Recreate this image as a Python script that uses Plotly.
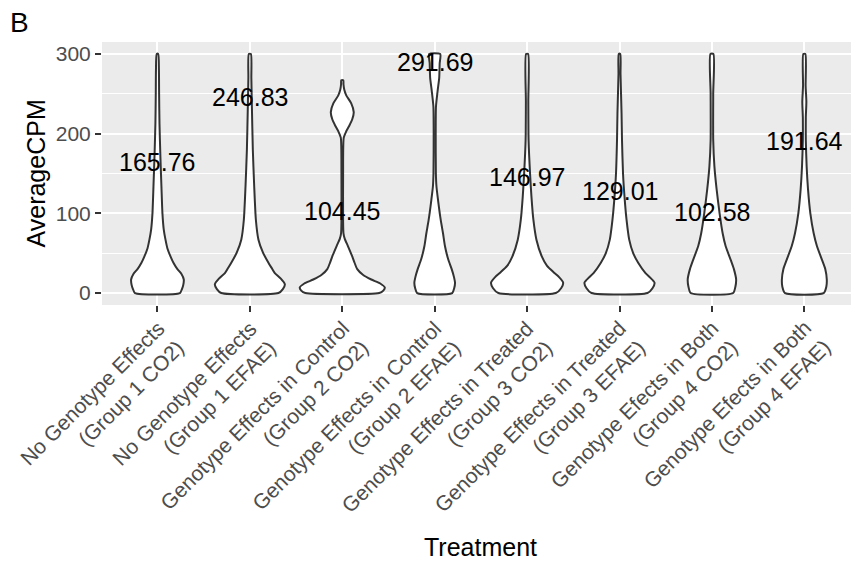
import plotly.graph_objects as go

# Treatment groups (x axis order) and the mean AverageCPM shown above each violin
treatments = [
    "No Genotype Effects<br>(Group 1 CO2)",
    "No Genotype Effects<br>(Group 1 EFAE)",
    "Genotype Effects in Control<br>(Group 2 CO2)",
    "Genotype Effects in Control<br>(Group 2 EFAE)",
    "Genotype Effects in Treated<br>(Group 3 CO2)",
    "Genotype Effects in Treated<br>(Group 3 EFAE)",
    "Genotype Efects in Both<br>(Group 4 CO2)",
    "Genotype Efects in Both<br>(Group 4 EFAE)",
]
mean_cpm = [165.76, 246.83, 104.45, 291.69, 146.97, 129.01, 102.58, 191.64]

# Scaled kernel-density profiles of each group: AverageCPM levels and the
# violin half-width at each level (in category units)
v1_cpm = [0, 5, 10, 17, 24, 30, 38, 46, 56, 67, 80, 100, 134, 171, 213, 250, 280, 300]
v1_hw = [0.243, 0.265, 0.279, 0.285, 0.260, 0.216, 0.173, 0.141, 0.108, 0.087, 0.068,
         0.054, 0.043, 0.032, 0.022, 0.018, 0.016, 0.008]

v2_cpm = [0, 5, 11, 18, 25, 31, 38, 51, 67, 92, 134, 180, 234, 270, 300]
v2_hw = [0.309, 0.357, 0.379, 0.335, 0.270, 0.238, 0.201, 0.141, 0.093, 0.065, 0.047,
         0.032, 0.022, 0.016, 0.011]

v3_cpm = [0, 3, 7, 12, 17, 23, 30, 38, 46, 59, 68, 75, 90, 150, 195, 203, 210, 218,
          227, 238, 248, 255, 262, 267]
v3_hw = [0.400, 0.444, 0.460, 0.411, 0.314, 0.223, 0.162, 0.133, 0.108, 0.061, 0.027,
         0.013, 0.009, 0.009, 0.016, 0.043, 0.076, 0.108, 0.124, 0.097, 0.043, 0.022,
         0.013, 0.011]

v4_cpm = [0, 6, 13, 20, 30, 42, 59, 75, 92, 117, 134, 150, 200, 234, 254, 270, 288, 300]
v4_hw = [0.190, 0.211, 0.220, 0.209, 0.184, 0.147, 0.111, 0.090, 0.065, 0.036, 0.019,
         0.013, 0.011, 0.014, 0.032, 0.049, 0.054, 0.060]

v5_cpm = [0, 6, 13, 20, 25.5, 34, 46, 67, 92, 121, 150, 192, 240, 300]
v5_hw = [0.311, 0.368, 0.390, 0.346, 0.292, 0.216, 0.159, 0.101, 0.068, 0.047, 0.032,
         0.016, 0.013, 0.011]

v6_cpm = [0, 6, 13, 19, 25, 38, 50, 67, 92, 121, 150, 192, 226, 275, 300]
v6_hw = [0.303, 0.357, 0.379, 0.335, 0.281, 0.202, 0.148, 0.105, 0.076, 0.054, 0.038,
         0.027, 0.022, 0.011, 0.008]

v7_cpm = [0, 8, 17, 30, 42, 59, 75, 100, 130, 159, 192, 250, 300]
v7_hw = [0.230, 0.254, 0.262, 0.238, 0.202, 0.148, 0.116, 0.083, 0.051, 0.027, 0.014,
         0.014, 0.016]

v8_cpm = [0, 8, 17, 30, 42, 59, 75, 100, 130, 159, 192, 220, 240, 260, 300]
v8_hw = [0.209, 0.238, 0.243, 0.227, 0.190, 0.136, 0.101, 0.065, 0.040, 0.025, 0.016,
         0.016, 0.022, 0.014, 0.011]

profiles = [(v1_cpm, v1_hw), (v2_cpm, v2_hw), (v3_cpm, v3_hw), (v4_cpm, v4_hw),
            (v5_cpm, v5_hw), (v6_cpm, v6_hw), (v7_cpm, v7_hw), (v8_cpm, v8_hw)]

y_ticks = [0, 100, 200, 300]

FONT = "Liberation Sans, Arial, Helvetica, sans-serif"
W, H = 851, 563
ML, MT, MB, MR = 102, 42, 258, 0
TICK_FS = 21

fig = go.Figure()

for i, (cpm, hw) in enumerate(profiles, start=1):
    xs = [i + w for w in hw] + [i - w for w in reversed(hw)] + [i + hw[0]]
    ys = list(cpm) + list(reversed(cpm)) + [cpm[0]]
    fig.add_trace(go.Scatter(
        x=xs, y=ys, mode="lines", fill="toself", fillcolor="white",
        line=dict(color="#333333", width=2, shape="spline", smoothing=0.6),
        hoverinfo="skip", showlegend=False,
    ))

# Mean value labels, centred on each group's mean
value_annots = [
    dict(text=f"{v:.2f}", x=i, y=v, xref="x", yref="y",
         xanchor="center", yanchor="middle", yshift=-1, showarrow=False,
         font=dict(family=FONT, size=25, color="black"))
    for i, v in enumerate(mean_cpm, start=1)
]

# Rotated, right-aligned two-line category labels hanging from each tick
ROT_BOX_H = 2 * 1.3 * TICK_FS
label_annots = [
    dict(text=t, x=i, xref="x", y=0, yref="paper",
         xanchor="right", yanchor="top", align="right",
         xshift=-6 + 0.7071 * ROT_BOX_H, yshift=-9,
         textangle=-45, showarrow=False,
         font=dict(family=FONT, size=TICK_FS, color="#4D4D4D"))
    for i, t in enumerate(treatments, start=1)
]

fig.update_layout(
    width=W, height=H,
    margin=dict(l=ML, r=MR, t=MT, b=MB, pad=0),
    paper_bgcolor="white", plot_bgcolor="#EBEBEB",
    font=dict(family=FONT),
    xaxis=dict(
        range=[0.4, 8.505], tickmode="array",
        tickvals=list(range(1, len(treatments) + 1)),
        ticktext=[""] * len(treatments),
        ticks="outside", ticklen=6, tickwidth=2, tickcolor="#333333",
        showgrid=True, gridcolor="white", gridwidth=2,
        zeroline=False, showline=False, fixedrange=True,
    ),
    yaxis=dict(
        range=[-15, 315], tickmode="array", tickvals=y_ticks,
        ticktext=[str(v) for v in y_ticks],
        ticks="outside", ticklen=6, tickwidth=2, tickcolor="#333333",
        tickfont=dict(family=FONT, size=TICK_FS, color="#4D4D4D"),
        showgrid=True, gridcolor="white", gridwidth=2,
        minor=dict(tickvals=[50, 150, 250], showgrid=True, gridcolor="white",
                   gridwidth=1, ticks=""),
        zeroline=False, showline=False, fixedrange=True,
    ),
    annotations=value_annots + label_annots + [
        dict(text="AverageCPM", x=(35 - ML) / (W - ML - MR), y=0.5,
             xref="paper", yref="paper", textangle=-90, showarrow=False,
             xanchor="center", yanchor="middle",
             font=dict(family=FONT, size=25, color="black")),
        dict(text="Treatment", x=(480.7 - ML) / (W - ML - MR),
             y=(H - MB - 547) / (H - MT - MB),
             xref="paper", yref="paper", showarrow=False,
             xanchor="center", yanchor="middle",
             font=dict(family=FONT, size=25, color="black")),
        dict(text="B", x=(19 - ML) / (W - ML - MR),
             y=(H - MB - 23) / (H - MT - MB),
             xref="paper", yref="paper", showarrow=False,
             xanchor="center", yanchor="middle",
             font=dict(family=FONT, size=28, color="black")),
    ],
)

fig.write_html("out.html")
